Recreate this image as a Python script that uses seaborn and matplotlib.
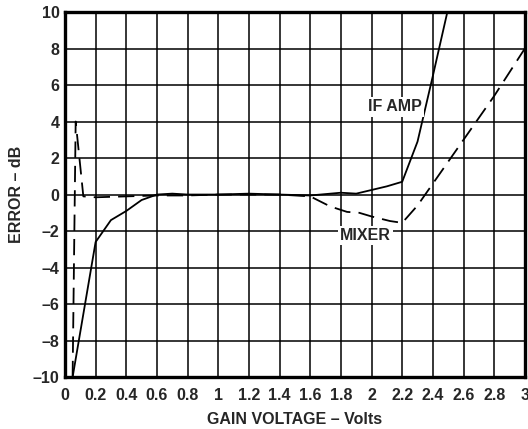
import numpy as np
import pandas as pd
import matplotlib
matplotlib.use("Agg")
import matplotlib.pyplot as plt
import seaborn as sns

# values
if_amp_v = [0.05, 0.2, 0.3, 0.4, 0.5, 0.6, 0.7, 0.8, 1.0, 1.2, 1.4, 1.6, 1.8, 1.9, 2.0, 2.1, 2.2, 2.3, 2.4, 2.5]
if_amp_err = [-10.0, -2.6, -1.4, -0.9, -0.3, 0.0, 0.05, 0.0, 0.0, 0.05, 0.0, -0.05, 0.1, 0.05, 0.25, 0.45, 0.7, 2.9, 6.5, 10.2]

mixer_v = [0.05, 0.07, 0.12, 0.2, 0.4, 0.6, 0.8, 1.0, 1.2, 1.4, 1.6, 1.73, 1.84, 1.92, 2.0, 2.12, 2.2, 2.3, 2.4, 2.6, 2.8, 3.0]
mixer_err = [-10.0, 4.0, -0.1, -0.15, -0.1, -0.05, -0.05, 0.0, 0.0, 0.0, -0.1, -0.65, -0.95, -1.0, -1.2, -1.45, -1.55, -0.6, 0.6, 3.0, 5.4, 8.0]

x_ticks = [0, 0.2, 0.4, 0.6, 0.8, 1, 1.2, 1.4, 1.6, 1.8, 2, 2.2, 2.4, 2.6, 2.8, 3]
x_labels = ["0", "0.2", "0.4", "0.6", "0.8", "1", "1.2", "1.4", "1.6", "1.8", "2", "2.2", "2.4", "2.6", "2.8", "3"]
y_ticks = [-10, -8, -6, -4, -2, 0, 2, 4, 6, 8, 10]
y_labels = ["–10", "–8", "–6", "–4", "–2", "0", "2", "4", "6", "8", "10"]

sns.set_style("white")
plt.rcParams['font.family'] = ['Liberation Sans', 'DejaVu Sans']
plt.rcParams['font.weight'] = 'bold'

fs = 11.5

fig = plt.figure(figsize=(5.28, 4.29), dpi=100)
ax = fig.add_axes([0.123, 0.121, 0.871, 0.851])

ifamp = pd.DataFrame({"v": if_amp_v, "err": if_amp_err})
mixer = pd.DataFrame({"v": mixer_v, "err": mixer_err})

sns.lineplot(data=ifamp, x="v", y="err", ax=ax, color="black", linewidth=1.3,
             estimator=None, sort=False, zorder=3)
sns.lineplot(data=mixer, x="v", y="err", ax=ax, color="black", linewidth=1.3,
             estimator=None, sort=False, zorder=3, linestyle=(0, (9, 4.5)))

ax.set_xlim(0, 3)
ax.set_ylim(-10, 10)
ax.set_xticks(x_ticks)
ax.set_xticklabels(x_labels)
ax.set_yticks(y_ticks)
ax.set_yticklabels(y_labels)
ax.tick_params(length=0, labelsize=fs)
ax.tick_params(axis="x", pad=8)
ax.tick_params(axis="y", pad=4)
for lab in ax.get_xticklabels() + ax.get_yticklabels():
    lab.set_fontweight("bold")

ax.grid(True, color="black", linewidth=1.1)
for s in ax.spines.values():
    s.set_linewidth(2.4)
    s.set_color("black")

ax.set_xlabel("GAIN VOLTAGE – Volts", fontsize=fs, fontweight="bold", labelpad=6)
ax.set_ylabel("ERROR – dB", fontsize=fs, fontweight="bold", labelpad=6)

box = dict(facecolor="white", edgecolor="none", pad=1.5)
ax.text(2.15, 4.8, "IF AMP", fontsize=fs, fontweight="bold", ha="center", va="center", bbox=box, zorder=4)
ax.text(1.96, -2.25, "MIXER", fontsize=fs, fontweight="bold", ha="center", va="center", bbox=box, zorder=4)

fig.savefig("out.png", dpi=100)
